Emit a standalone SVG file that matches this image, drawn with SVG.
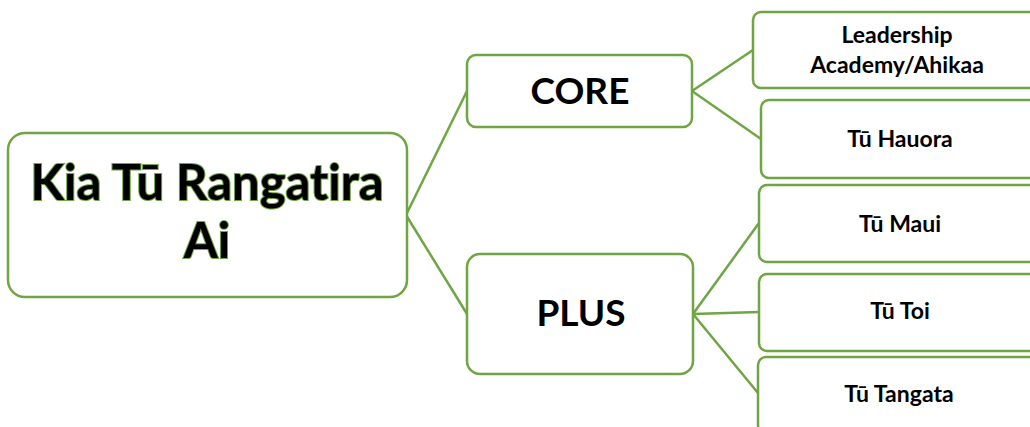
<svg xmlns="http://www.w3.org/2000/svg" width="1030" height="427" viewBox="0 0 1030 427">
<style>
.box{fill:#fff;stroke:#6fa544;stroke-width:2.5}
.ln{stroke:#6fa544;stroke-width:2.5;fill:none}
.t{font-family:Lato,"Open Sans","Liberation Sans",sans-serif;font-weight:bold;fill:#000;text-anchor:middle;font-variant-ligatures:none}
.main{font-size:49px;stroke:#6fa544;stroke-width:2;paint-order:stroke;}
.mid{font-size:37px}
.sm{font-size:23px}
</style>
<rect width="1030" height="427" fill="#fff"/>
<g id="connectors">
<line class="ln" x1="406" y1="215" x2="467" y2="91"/>
<line class="ln" x1="406" y1="215" x2="467" y2="314"/>
<line class="ln" x1="692" y1="91" x2="753" y2="50"/>
<line class="ln" x1="692" y1="91" x2="761" y2="139"/>
<line class="ln" x1="693" y1="314" x2="759" y2="223"/>
<line class="ln" x1="693" y1="314" x2="759" y2="312"/>
<line class="ln" x1="693" y1="314" x2="758" y2="393"/>
</g>
<g id="main">
<rect class="box" x="8" y="133" width="399" height="164" rx="17"/>
<text class="t main" x="207" y="200">Kia Tū Rangatira</text>
<text class="t main" x="207" y="258">Ai</text>
</g>
<g id="core">
<rect class="box" x="467" y="55" width="225" height="72" rx="9"/>
<text class="t mid" x="580" y="104">CORE</text>
</g>
<g id="plus">
<rect class="box" x="467" y="254" width="226" height="120" rx="13"/>
<text class="t mid" x="581" y="326">PLUS</text>
</g>
<g id="leadership">
<rect class="box" x="753" y="12" width="320" height="76" rx="8"/>
<text class="t sm" x="897" y="43">Leadership</text>
<text class="t sm" x="897" y="73">Academy/Ahikaa</text>
</g>
<g id="hauora">
<rect class="box" x="761" y="100" width="320" height="78" rx="8"/>
<text class="t sm" x="900" y="147">Tū Hauora</text>
</g>
<g id="maui">
<rect class="box" x="759" y="185" width="320" height="77" rx="8"/>
<text class="t sm" x="900" y="232">Tū Maui</text>
</g>
<g id="toi">
<rect class="box" x="759" y="274" width="320" height="77" rx="8"/>
<text class="t sm" x="900" y="319">Tū Toi</text>
</g>
<g id="tangata">
<rect class="box" x="758" y="357" width="320" height="76" rx="8"/>
<text class="t sm" x="899" y="402">Tū Tangata</text>
</g>
</svg>
